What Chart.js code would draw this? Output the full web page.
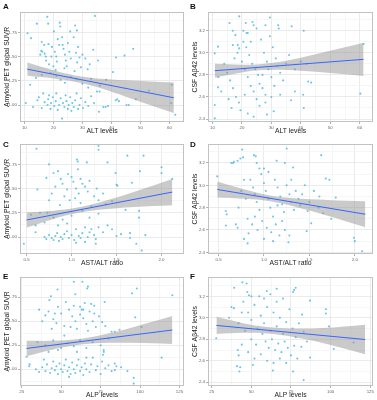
<!DOCTYPE html>
<html>
<head>
<meta charset="utf-8">
<script src="https://cdn.jsdelivr.net/npm/chart.js@4.4.1/dist/chart.umd.min.js"></script>
<style>
  body { margin: 0; background: #fff; width: 377px; height: 400px; position: relative; overflow: hidden; font-family: "Liberation Sans", Arial, sans-serif; }
  canvas { position: absolute; }
  .lab { position: absolute; font-weight: bold; font-size: 8px; color: #111; }
</style>
</head>
<body>
<canvas id="cA" width="188" height="136" style="left:0;top:0"></canvas>
<canvas id="cB" width="189" height="136" style="left:188px;top:0"></canvas>
<canvas id="cC" width="188" height="136" style="left:0;top:132px"></canvas>
<canvas id="cD" width="189" height="136" style="left:188px;top:132px"></canvas>
<canvas id="cE" width="188" height="135" style="left:0;top:265px"></canvas>
<canvas id="cF" width="189" height="135" style="left:188px;top:265px"></canvas>
<div class="lab" style="left:3px;top:2px">A</div>
<div class="lab" style="left:190px;top:2px">B</div>
<div class="lab" style="left:3px;top:140px">C</div>
<div class="lab" style="left:190px;top:140px">D</div>
<div class="lab" style="left:3px;top:272px">E</div>
<div class="lab" style="left:190px;top:272px">F</div>
<script>
// ---- data: [x, y] per subject ----
var altSuvr = [[11.1,1.74],[12.3,1.69],[14.3,1.84],[15.5,1.52],[15.8,1.56],[16.2,1.55],[17,1.53],[17.4,1.5],[16.8,1.62],[16,1.65],[18.3,1.63],[17.9,1.91],[18.2,1.84],[18.5,1.42],[17.5,1.46],
  [19.5,1.6],[20.2,1.76],[20.5,1.55],[21,1.5],[21.2,1.45],[20,1.4],[22.2,1.85],[22.4,1.81],[21.5,1.68],[22,1.62],[19.3,1.5],[20.8,1.36],
  [23,1.7],[23.5,1.58],[24,1.52],[24.3,1.46],[25,1.64],[25.8,1.76],[24.6,1.4],[23.8,1.38],[25.5,1.55],[26,1.48],[23.2,1.62],
  [27.5,1.82],[28.1,1.77],[27,1.7],[28.5,1.6],[27.8,1.54],[29,1.49],[28.2,1.44],[30,1.52],[29.5,1.39],[27.3,1.35],
  [31,1.48],[32.5,1.42],[33.7,1.57],[34.3,1.92],[35.4,1.46],[31.8,1.37],[40.5,1.34],[41.6,1.49],[44.5,1.51],[47.5,1.58],
  [12,1.21],[14,1.28],[16,1.31],[19,1.33],[21,1.3],[22.5,1.26],[24,1.23],[26,1.29],[28,1.27],[30,1.22],[33,1.27],[36,1.2],[38.2,1.26],[32,1.18],[35,1.14],[35.9,1.14],
  [10.5,1.02],[13,0.98],[14.5,1.05],[15,1.08],[16,0.97],[16.5,1.12],[17,1.03],[18,1.0],[18.2,1.06],[18.5,1.1],[19,0.96],[19.2,1.02],[19.8,1.08],[20.3,0.99],[20.8,1.04],[21,1.12],[21.5,0.95],[22,1.0],[22.5,1.07],[23,0.86],[23.3,1.02],[23.8,0.98],[24.2,1.1],[24.5,1.04],[25,0.96],[25.3,1.0],[25.8,1.08],[26.2,0.94],[26.5,1.02],[27,0.98],[27.5,1.05],[28,1.12],[28.5,0.96],[29,1.0],[29.5,1.07],[30.2,0.97],[31,1.03],[32,0.99],[33,1.09],[34,1.02],[35.7,0.93],[37.2,0.98],[38,0.98],[38.8,0.99],[41.5,1.05],[42,1.06],[42.6,1.04],[45.2,1.0],[46,1.0],[48.4,1.06],[52.9,1.15],[60.8,1.21],[60.6,1.02],[62,0.9]];

var altCsf = [[10.8,2.995],[10.8,2.527],[10.8,2.406],[11.9,3.056],[11.9,2.687],[15.8,3.27],[16.9,3.2],[17.8,3.16],[16.9,3.07],[19.1,3.33],[18.6,3.07],[19.1,3.04],[21.3,3.27],[23.6,3.28],[24,3.25],[20.5,3.2],[21.6,3.18],[29.5,3.32],[32.3,3.25],[32.5,3.22],[36.9,3.24],[41,3.2],[42.5,2.74],[43.5,2.73],[40.8,2.62],[38,2.65],[36.7,2.57],[41,2.5],[30.8,2.47],[28.5,2.44],[61.3,3.08],[60.2,2.63],
  [14,2.9],[15,2.82],[16,2.75],[17,2.68],[18,2.6],[19,2.55],[17.5,2.95],[18.5,3.0],[20,2.92],[21,2.85],[22,2.78],[23,2.7],[24,2.65],[25,2.58],[20.5,3.1],[21.5,3.05],[22.5,2.98],[23.5,2.9],[24.5,2.85],[25.5,2.8],[26,2.72],[27,2.68],[28,2.62],[26.5,3.12],[27.5,3.0],[28.5,2.92],[29,2.85],[30,2.78],[31,2.7],[29.5,3.15],[30.5,3.05],[31.5,2.95],[32,2.88],[33,2.82],[34,2.75],[35,2.9],[36,2.98],[22,3.18],[25,3.22],[28,3.25],[19.5,2.48],[22,2.45],[26,2.52],[24,2.42],[28,2.55],[30,2.6],[33,2.62],[15.5,2.58],[16.5,2.5],[13,2.65],[12,2.78],[38,2.85],[40,2.92],[42,2.9],[21,2.62],[23,3.1],[27,2.8]];

var ratioSuvr = [[0.61,1.91],[1.3,1.94],[1.3,1.9],[1.62,1.84],[1.8,1.84],[2.0,1.72],[2.0,1.66],[2.12,1.6],[1.76,1.68],[1.67,1.56],[1.49,1.66],[1.4,1.77],[1.17,1.77],[1.06,1.8],[1.07,1.78],[0.75,1.75],[0.62,1.49],[1.5,1.54],[1.51,1.53],
  [0.8,1.66],[0.85,1.68],[0.88,1.6],[0.9,1.55],[0.82,1.52],[0.78,1.45],[0.95,1.49],[1.0,1.62],[1.02,1.57],[1.05,1.5],[1.08,1.45],[1.1,1.6],[1.12,1.55],[1.15,1.52],[0.92,1.42],[0.98,1.38],[1.04,1.4],[1.1,1.35],[1.18,1.47],[1.2,1.58],[1.25,1.42],[1.28,1.5],[1.3,1.38],[1.35,1.45],[0.75,1.38],[0.87,1.33],[1.22,1.32],[1.45,1.37],[1.38,1.34],[0.96,1.65],[1.07,1.7],[0.72,1.61],
  [0.55,1.23],[0.65,1.25],[0.73,1.25],[0.8,1.2],[0.9,1.18],[1.0,1.22],[1.12,1.27],[1.2,1.2],[1.3,1.24],[1.6,1.28],[1.75,1.27],[1.75,1.2],[0.6,1.12],[0.7,1.15],
  [0.47,0.93],[0.6,1.05],[0.7,1.0],[0.72,0.98],[0.75,1.02],[0.78,0.99],[0.8,0.97],[0.82,1.01],[0.84,1.04],[0.86,0.96],[0.88,1.0],[0.9,0.98],[0.92,1.03],[0.95,1.06],[0.97,0.99],[1.0,1.02],[1.03,0.97],[1.05,1.08],[1.08,1.01],[1.1,0.99],[1.12,1.04],[1.15,1.1],[1.18,1.0],[1.2,1.05],[1.22,1.08],[1.25,1.02],[1.27,0.98],[1.3,1.1],[1.35,1.05],[1.4,1.12],[1.45,1.08],[1.5,1.01],[1.55,1.03],[1.27,0.93],[1.65,1.04],[1.65,0.99],[1.82,1.02],[1.72,0.93],[1.78,0.86],[0.85,1.12],[0.95,1.14],[1.05,0.94],[1.15,0.95]];

var ratioCsf = [[0.486,3.08],[0.64,3.2],[0.66,3.2],[0.67,3.21],[0.71,3.22],[0.74,3.24],[0.77,3.25],[0.76,3.32],[0.89,3.27],[0.91,3.26],[0.58,2.77],[0.59,2.74],[0.58,2.64],[0.69,2.65],[0.71,2.62],[0.78,2.52],[0.82,2.48],[1.14,3.22],[1.23,3.2],[1.25,3.33],[1.32,3.16],[1.63,3.27],[1.68,3.06],[1.72,3.05],[1.79,2.89],[1.61,2.9],[1.74,2.7],[1.99,2.53],[2.0,2.5],[2.08,2.41],[1.48,2.77],[1.52,2.66],[1.47,2.59],[1.27,2.49],
  [0.85,3.05],[0.88,2.98],[0.9,2.92],[0.92,2.85],[0.95,2.78],[0.97,3.1],[1.0,3.02],[1.02,2.95],[1.05,2.88],[1.07,2.8],[1.1,2.72],[1.12,3.05],[1.15,2.98],[1.18,2.9],[1.2,2.83],[1.22,2.76],[1.25,3.0],[1.28,2.92],[1.3,2.85],[1.33,2.78],[1.35,2.95],[1.38,2.88],[1.4,2.82],[1.42,2.92],[0.82,2.7],[0.87,2.65],[0.93,2.6],[0.98,2.68],[1.03,2.62],[1.08,2.58],[1.13,2.65],[1.17,2.55],[1.23,2.6],[1.28,2.55],[0.8,2.88],[0.75,2.95],[0.72,2.8],[0.95,3.15],[1.05,3.12],[0.83,2.57],[1.0,2.52],[1.1,2.5],[1.2,2.68],[0.9,2.72],[1.15,2.82],[1.45,3.0],[1.5,2.85],[1.55,2.95],[1.6,2.8],[1.65,2.75],[1.0,3.15],[0.92,3.2],[1.3,3.05],[0.78,3.05]];

var alpSuvr = [[28.1,1.13],[29.7,1.03],[42.5,1.72],[43.5,1.76],[47.7,1.83],[58,1.91],[63.5,1.91],[67,1.86],[66.5,1.84],[59,1.78],[65,1.69],[69,1.68],[71,1.66],[62,1.65],[64,1.62],[77.6,1.7],[95,1.79],[98,1.84],[97,1.54],[101,1.44],[120.5,1.77],[113.7,1.12],[96,0.91],[96,0.85],[92,0.98],[85,1.03],[84,0.99],[77,1.2],[77,1.18],[76.5,1.15],[82,1.39],[84,1.39],[87,1.41],
  [40,1.56],[42,1.6],[45,1.52],[47,1.48],[50,1.58],[52,1.45],[55,1.62],[57,1.55],[59,1.5],[60,1.42],[62,1.57],[64,1.53],[66,1.47],[68,1.6],[70,1.5],[72,1.44],[74,1.55],[76,1.49],[78,1.45],[38,1.5],[44,1.42],[48,1.65],[53,1.7],[58,1.66],[63,1.62],[67,1.4],[71,1.58],[36,1.62],[46,1.58],[56,1.44],
  [35,1.28],[40,1.25],[45,1.3],[50,1.22],[54,1.27],[58,1.24],[62,1.3],[66,1.22],[70,1.28],[75,1.25],[80,1.32],[48,1.2],[52,1.35],[60,1.18],[42,1.18],
  [30,1.05],[34,1.0],[36,0.97],[38,1.02],[40,0.98],[41,1.05],[43,0.96],[44,1.01],[45,1.08],[46,0.99],[47,1.03],[48,0.95],[49,1.06],[50,1.0],[51,0.97],[52,1.04],[53,1.1],[54,0.98],[55,1.02],[56,0.95],[57,1.07],[58,1.0],[59,0.96],[60,1.04],[61,1.1],[62,0.98],[63,1.02],[64,0.94],[65,1.06],[66,1.0],[68,0.97],[69,1.05],[70,1.12],[72,0.99],[73,1.03],[75,0.95],[76,1.08],[78,1.01],[80,1.04],[82,0.98],[84,1.06],[88,1.02],[39,1.1],[55,0.92],[66,1.12]];

var alpCsf = [[27.9,2.81],[36,3.0],[39.2,3.28],[44.4,3.33],[47,3.32],[47.5,3.24],[48.5,3.21],[37.5,3.1],[39,3.09],[59.8,3.25],[66,3.27],[77,3.26],[78,3.28],[76.3,3.24],[87,3.16],[82,3.03],[97,3.08],[97,3.04],[99,2.92],[102,2.71],[114.5,2.77],[41.5,2.7],[42,2.65],[41,2.55],[42.5,2.5],[43,2.54],[51,2.56],[63.6,2.51],[76.3,2.5],[83,2.42],[87,2.63],[81.5,2.73],
  [45,3.15],[48,3.05],[50,2.98],[52,3.12],[54,2.9],[56,3.02],[58,2.95],[60,3.1],[62,2.88],[64,3.05],[66,2.92],[68,3.0],[70,2.85],[72,2.96],[74,3.08],[76,2.9],[78,2.82],[80,2.95],[46,2.88],[50,2.8],[53,2.75],[57,2.85],[59,2.78],[61,2.72],[63,2.8],[65,2.7],[67,2.76],[69,2.68],[71,2.78],[73,2.72],[75,2.65],[77,2.74],[79,2.62],[44,2.75],[48,2.68],[52,2.62],[56,2.66],[60,2.6],[64,2.58],[68,2.62],[72,2.58],[55,3.2],[58,3.18],[62,3.22],[66,3.15],[70,3.18],[42,2.95],[44,3.05],[50,3.2],[83,2.87],[85,2.78]];

// ---- fitted lines and 95% bands (x, lower, upper) ----
var fitA = [[11,1.37],[61.5,1.075]];
var bandXA = [11,20,27,35,45,61.5], bandLoA = [1.302,1.275,1.244,1.185,1.086,0.917], bandHiA = [1.438,1.359,1.308,1.275,1.256,1.233];
var fitB = [[10.8,2.838],[61.3,2.941]];
var bandXB = [10.8,20,26,35,45,61.3], bandLoB = [2.774,2.821,2.841,2.845,2.828,2.791], bandHiB = [2.902,2.893,2.897,2.929,2.988,3.091];
var fitC = [[0.5,1.176],[2.12,1.464]];
var bandXC = [0.5,0.8,1.05,1.3,1.7,2.12], bandLoC = [1.098,1.187,1.245,1.282,1.311,1.329], bandHiC = [1.254,1.271,1.301,1.354,1.467,1.599];
var fitD = [[0.486,2.963],[2.115,2.741]];
var bandXD = [0.486,0.8,1.05,1.3,1.7,2.115], bandLoD = [2.892,2.88,2.86,2.818,2.728,2.625], bandHiD = [3.034,2.96,2.912,2.886,2.868,2.857];
var fitE = [[28,1.216],[120.5,1.408]];
var bandXE = [28,45,60,75,95,120.5], bandLoE = [1.136,1.206,1.252,1.273,1.275,1.263], bandHiE = [1.296,1.296,1.312,1.353,1.435,1.553];
var fitF = [[28,2.929],[121.7,2.798]];
var bandXF = [28,45,60,75,95,121.7], bandLoF = [2.849,2.86,2.854,2.825,2.765,2.66], bandHiF = [3.009,2.95,2.914,2.901,2.905,2.936];

// ---- axis ticks ----
var altTicks = [10,20,30,40,50,60], altMinor = [15,25,35,45,55];
var ratioTicks = [0.5,1.0,1.5,2.0], ratioMinor = [0.75,1.25,1.75];
var alpTicks = [25,50,75,100,125], alpMinor = [37.5,62.5,87.5,112.5];
var suvrTicks = [1.0,1.25,1.5,1.75], suvrMinor = [0.875,1.125,1.375,1.625,1.875];
var csfTicks = [2.4,2.6,2.8,3.0,3.2], csfMinor = [2.5,2.7,2.9,3.1,3.3];

var frame = {
  id: 'frame',
  afterDraw: function(chart) {
    var a = chart.chartArea, c = chart.ctx;
    c.save();
    c.strokeStyle = '#c2c2c2';
    c.lineWidth = 1;
    c.strokeRect(Math.round(a.left) + 0.5, Math.round(a.top) + 0.5, Math.round(a.right - a.left) - 1, Math.round(a.bottom - a.top) - 1);
    c.restore();
  }
};

function has(list, v) {
  return list.some(function(t) { return Math.abs(t - v) < 1e-9 });
}

function axis(range, major, minor, fmt, title, vertical) {
  var all = major.concat(minor).sort(function(a, b) { return a - b });
  return {
    type: 'linear',
    min: range[0],
    max: range[1],
    afterBuildTicks: function(s) { s.ticks = all.map(function(v) { return {value: v} }) },
    afterFit: function(s) { if (vertical) s.width = 20; else s.height = 14; },
    border: { display: false },
    grid: {
      color: function(ctx) { return ctx.tick && has(major, ctx.tick.value) ? '#e6e6e6' : '#f4f4f4' },
      tickColor: function(ctx) { return ctx.tick && has(major, ctx.tick.value) ? '#a0a0a0' : 'rgba(0,0,0,0)' },
      tickLength: 2,
      lineWidth: 0.8
    },
    ticks: {
      autoSkip: false,
      maxRotation: 0,
      padding: 1,
      color: '#666',
      font: { family: 'Liberation Sans, Arial, sans-serif', size: 4.4 },
      callback: function(v) { return has(major, v) ? fmt(v) : '' }
    },
    title: {
      display: true,
      text: title,
      color: '#222',
      font: { family: 'Liberation Sans, Arial, sans-serif', size: 6.8 },
      padding: vertical ? { top: 3, bottom: 0 } : { top: 0, bottom: 0.5 }
    }
  };
}

function toXY(pairs) {
  return pairs.map(function(p) { return {x: p[0], y: p[1]} });
}
function bandData(xs, ys) {
  return xs.map(function(x, i) { return {x: x, y: ys[i]} });
}

function panel(id, pts, fit, bx, blo, bhi, xAxis, yAxis) {
  new Chart(document.getElementById(id), {
    type: 'scatter',
    data: {
      datasets: [{
        type: 'line',
        data: toXY(fit),
        borderColor: '#3366ff',
        borderWidth: 1,
        pointRadius: 0,
        fill: false,
        order: 0
      }, {
        type: 'line',
        data: bandData(bx, blo),
        borderWidth: 0,
        pointRadius: 0,
        tension: 0.35,
        fill: false,
        order: 1
      }, {
        type: 'line',
        data: bandData(bx, bhi),
        borderWidth: 0,
        pointRadius: 0,
        tension: 0.35,
        fill: '-1',
        backgroundColor: 'rgba(150,150,150,0.5)',
        order: 1
      }, {
        data: toXY(pts),
        pointRadius: 1.05,
        pointBorderWidth: 0,
        pointBackgroundColor: 'rgba(70,185,225,0.8)',
        order: 2
      }]
    },
    options: {
      responsive: false,
      animation: false,
      layout: { padding: { top: 12, right: 1, left: 0, bottom: 0 } },
      plugins: { legend: { display: false }, tooltip: { enabled: false } },
      scales: { x: xAxis, y: yAxis }
    },
    plugins: [frame]
  });
}

var f0 = function(v) { return String(v) };
var f1 = function(v) { return v.toFixed(1) };
var f2 = function(v) { return v.toFixed(2) };

panel('cA', altSuvr, fitA, bandXA, bandLoA, bandHiA,
  axis([8.5, 65], altTicks, altMinor, f0, 'ALT levels', false),
  axis([0.825, 1.96], suvrTicks, suvrMinor, f2, 'Amyloid PET global SUVR', true));
panel('cB', altCsf, fitB, bandXB, bandLoB, bandHiB,
  axis([8.5, 64.5], altTicks, altMinor, f0, 'ALT levels', false),
  axis([2.373, 3.37], csfTicks, csfMinor, f1, 'CSF Aβ42 levels', true));
panel('cC', ratioSuvr, fitC, bandXC, bandLoC, bandHiC,
  axis([0.427, 2.25], ratioTicks, ratioMinor, f1, 'AST/ALT ratio', false),
  axis([0.825, 1.96], suvrTicks, suvrMinor, f2, 'Amyloid PET global SUVR', true));
panel('cD', ratioCsf, fitD, bandXD, bandLoD, bandHiD,
  axis([0.384, 2.2], ratioTicks, ratioMinor, f1, 'AST/ALT ratio', false),
  axis([2.385, 3.37], csfTicks, csfMinor, f1, 'CSF Aβ42 levels', true));
panel('cE', alpSuvr, fitE, bandXE, bandLoE, bandHiE,
  axis([23.9, 127.9], alpTicks, alpMinor, f0, 'ALP levels', false),
  axis([0.825, 1.96], suvrTicks, suvrMinor, f2, 'Amyloid PET global SUVR', true));
panel('cF', alpCsf, fitF, bandXF, bandLoF, bandHiF,
  axis([22.7, 126.7], alpTicks, alpMinor, f0, 'ALP levels', false),
  axis([2.365, 3.38], csfTicks, csfMinor, f1, 'CSF Aβ42 levels', true));
</script>
</body>
</html>
